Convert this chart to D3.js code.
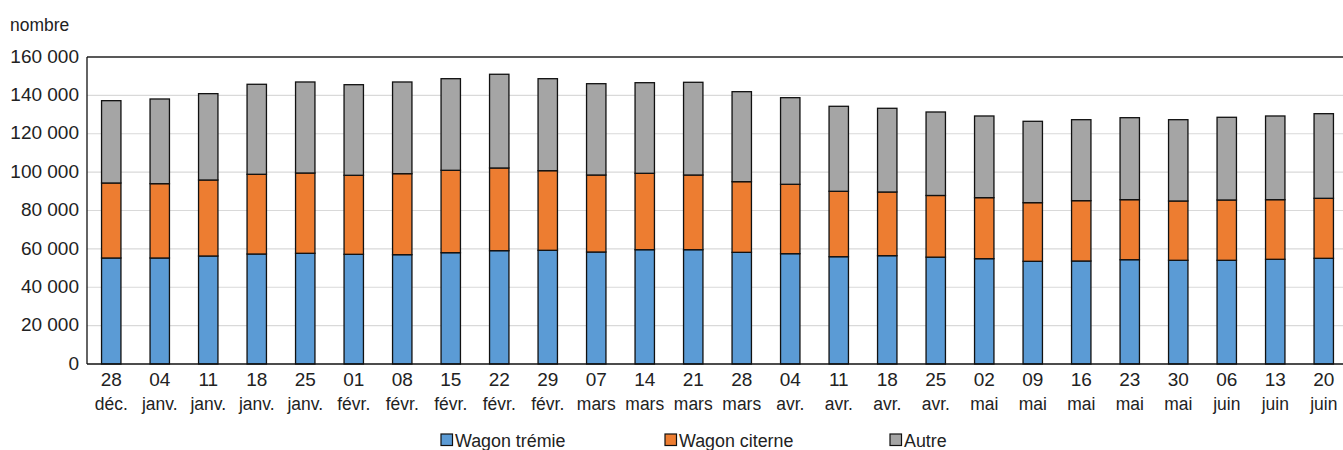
<!DOCTYPE html>
<html>
<head>
<meta charset="utf-8">
<script src="https://cdn.jsdelivr.net/npm/d3@7"></script>
<style>
  html, body { margin: 0; padding: 0; background: #fff; }
  svg { display: block; }
  text { font-family: "Liberation Sans", Arial, sans-serif; fill: #222; }
</style>
</head>
<body>
<svg id="chart" width="1343" height="450"></svg>
<script>
const days = ["28","04","11","18","25","01","08","15","22","29","07","14","21","28","04","11","18","25","02","09","16","23","30","06","13","20"];
const months = ["déc.","janv.","janv.","janv.","janv.","févr.","févr.","févr.","févr.","févr.","mars","mars","mars","mars","avr.","avr.","avr.","avr.","mai","mai","mai","mai","mai","juin","juin","juin"];
const seriesNames = ["Wagon trémie","Wagon citerne","Autre"];
const tremie = [55250,55250,56290,57330,57700,57170,56970,58010,59060,59260,58370,59570,59570,58200,57490,55920,56450,55690,54890,53520,53680,54360,54050,54050,54570,55090];
const citerne = [39090,38730,39610,41540,41850,41180,42220,42950,43100,41490,40130,39820,38930,36820,36170,34090,33200,32140,31800,30560,31440,31280,30910,31430,31070,31270];
const autre = [42900,44140,45000,46910,47430,47220,47790,47740,48840,47950,47590,47220,48320,46910,45140,44300,43620,43510,42570,42410,42210,42730,42370,43100,43620,44100];
const yTicks = [0,20000,40000,60000,80000,100000,120000,140000,160000];
const colors = ["#5b9bd5","#ed7d31","#a5a5a5"];

const svg = d3.select("#chart");
const pLeft = 87, pRight = 1348, pTop = 57, pBottom = 364;
const fs = 19;

const rows = days.map((d, i) => ({ key: i, tremie: tremie[i], citerne: citerne[i], autre: autre[i] }));
const keys = ["tremie","citerne","autre"];

const x = d3.scaleBand().domain(d3.range(days.length)).range([pLeft, pRight]).paddingInner(0.6).paddingOuter(0.3);
const y = d3.scaleLinear().domain([0, 160000]).range([pBottom, pTop]);
const fmt = v => d3.format(",")(v).replace(/,/g, " ");

// helper: condensed text
function label(sel, tx, ty, sx) {
  return sel.attr("transform", (d, i) => `translate(${tx(d, i)},${ty(d, i)}) scale(${sx},1)`);
}

// gridlines
svg.append("g").selectAll("line").data(yTicks.filter(t => t > 0 && t < 160000)).join("line")
  .attr("x1", pLeft).attr("x2", pRight)
  .attr("y1", d => y(d)).attr("y2", d => y(d))
  .attr("stroke", "#d9d9d9").attr("stroke-width", 1.2);

// bars
const stack = d3.stack().keys(keys)(rows);
svg.append("g").selectAll("g").data(stack).join("g")
  .attr("fill", (d, i) => colors[i])
  .selectAll("rect").data(d => d).join("rect")
  .attr("x", d => x(d.data.key))
  .attr("width", x.bandwidth())
  .attr("y", d => y(d[1]))
  .attr("height", d => y(d[0]) - y(d[1]))
  .attr("stroke", "#111").attr("stroke-width", 1.3);

// frame lines
svg.append("line").attr("x1", pLeft).attr("x2", pRight).attr("y1", pTop).attr("y2", pTop).attr("stroke", "#222").attr("stroke-width", 1.3);
svg.append("line").attr("x1", pLeft).attr("x2", pLeft).attr("y1", pTop).attr("y2", pBottom).attr("stroke", "#111").attr("stroke-width", 1.3);
svg.append("line").attr("x1", pLeft).attr("x2", pRight).attr("y1", pBottom).attr("y2", pBottom).attr("stroke", "#111").attr("stroke-width", 1.5);

// y labels
svg.append("g").selectAll("text").data(yTicks).join("text")
  .attr("x", pLeft - 8).attr("y", d => y(d)).attr("dy", "0.3em")
  .attr("text-anchor", "end").attr("font-size", fs)
  .text(fmt);

label(svg.append("text").datum(0), () => 10, () => 31, 0.92).attr("font-size", fs).text("nombre");

// x labels
const xl = svg.append("g").selectAll("g").data(d3.range(days.length)).join("g");
xl.append("text").attr("x", i => x(i) + x.bandwidth() / 2).attr("y", 386)
  .attr("text-anchor", "middle").attr("font-size", fs).text(i => days[i]);
label(xl.append("text"), i => x(i) + x.bandwidth() / 2, () => 410, 0.92)
  .attr("text-anchor", "middle").attr("font-size", fs).text(i => months[i]);

// legend
const legX = [441, 665, 890];
const leg = svg.append("g").selectAll("g").data(seriesNames).join("g")
  .attr("transform", (d, i) => `translate(${legX[i]},0)`);
leg.append("rect").attr("x", 0).attr("y", 434).attr("width", 11.5).attr("height", 11.5)
  .attr("fill", (d, i) => colors[i]).attr("stroke", "#111").attr("stroke-width", 1.2);
label(leg.append("text"), () => 14, () => 446.5, 0.94).attr("font-size", fs).text(d => d);
</script>
</body>
</html>
